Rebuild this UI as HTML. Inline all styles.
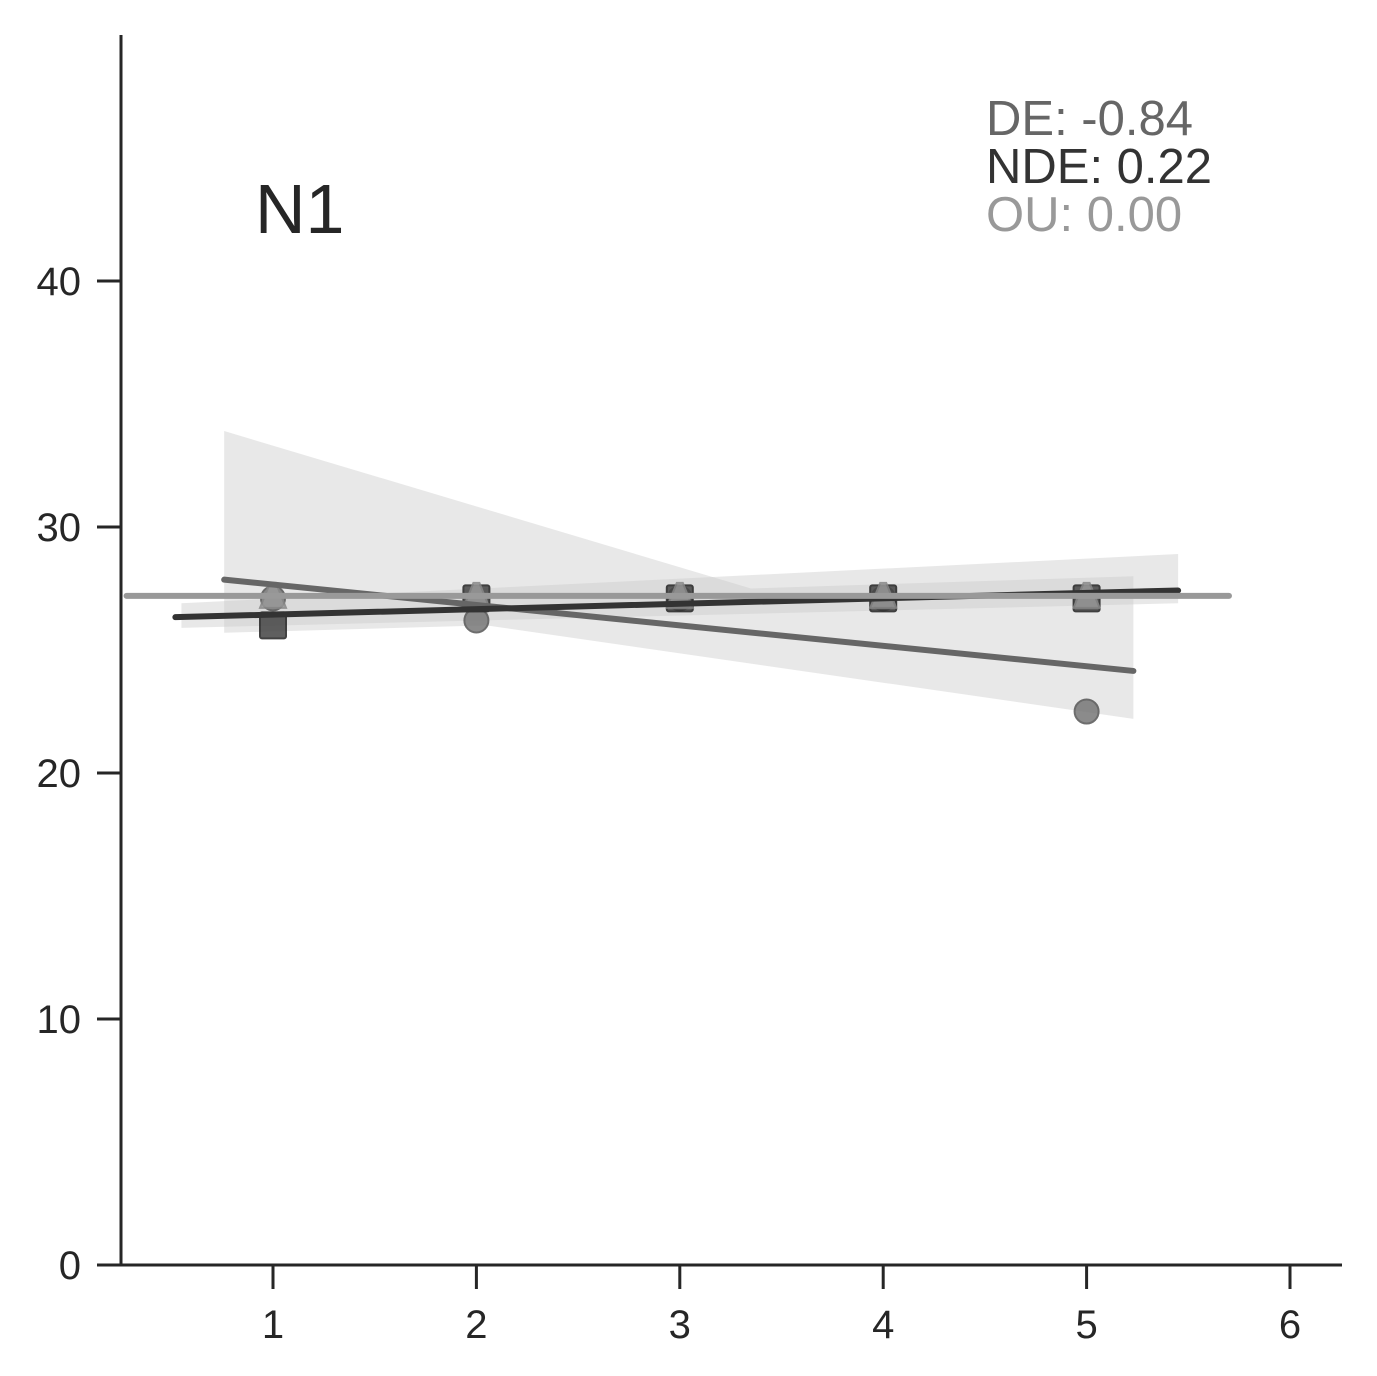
<!DOCTYPE html>
<html><head><meta charset="utf-8"><style>body{margin:0;background:#fff}svg{display:block}text{font-family:"Liberation Sans",Arial,sans-serif}</style></head>
<body>
<svg id="chart" width="1377" height="1376" xmlns="http://www.w3.org/2000/svg"></svg>
<script>
const xs = [1, 2, 3, 4, 5];
const deValues = [27.1, 26.2, 27.1, 27.1, 22.5];
const ndeValues = [26.0, 27.1, 27.1, 27.1, 27.1];
const ouValues = [27.2, 27.2, 27.2, 27.2, 27.2];
const deBandUpperX = [0.76, 3.35, 5.23];
const deBandUpper = [33.9, 27.5, 28.0];
const deBandLowerX = [0.76, 2.05, 5.23];
const deBandLower = [25.7, 26.0, 22.2];
const ndeBandUpperX = [0.55, 5.45];
const ndeBandUpper = [26.9, 28.9];
const ndeBandLowerX = [0.55, 5.45];
const ndeBandLower = [25.9, 26.9];
const xTicks = [1, 2, 3, 4, 5, 6];
const yTicks = [0, 10, 20, 30, 40];
const annotations = ["DE: -0.84", "NDE: 0.22", "OU: 0.00"];

const svg = document.getElementById('chart');
const NS = 'http://www.w3.org/2000/svg';
const X = v => 273 + (v - 1) * 203.4;
const Y = v => 1265 - v * 24.6;
function mk(tag, attrs, parent) {
  const e = document.createElementNS(NS, tag);
  for (const k in attrs) e.setAttribute(k, attrs[k]);
  (parent || svg).appendChild(e);
  return e;
}
function fit(vals) {
  const n = xs.length, mx = xs.reduce((a,b)=>a+b)/n, my = vals.reduce((a,b)=>a+b)/n;
  let sxy = 0, sxx = 0;
  xs.forEach((x,i)=>{sxy += (x-mx)*(vals[i]-my); sxx += (x-mx)*(x-mx);});
  const b = sxy/sxx; return x => my + b*(x-mx);
}
function band(ux, uy, lx, ly, name) {
  const pts = ux.map((x,i)=>`${X(x)},${Y(uy[i])}`);
  for (let i = lx.length-1; i >= 0; i--) pts.push(`${X(lx[i])},${Y(ly[i])}`);
  const p = mk('polygon', {points: pts.join(' '), fill: '#c8c8c8', 'fill-opacity': 0.42});
  
  
}
band(deBandUpperX, deBandUpper, deBandLowerX, deBandLower, 'de-confidence-band');
band(ndeBandUpperX, ndeBandUpper, ndeBandLowerX, ndeBandLower, 'nde-confidence-band');

xs.forEach((x,i)=>{
  const c = mk('circle', {cx: X(x), cy: Y(deValues[i]), r: 12, fill: '#777', stroke: '#555', 'stroke-width': 2, opacity: 0.85});
  
  
  const s = mk('rect', {x: X(x)-13, y: Y(ndeValues[i])-13, width: 26, height: 26, rx: 2, fill: '#444', stroke: '#222', 'stroke-width': 2, opacity: 0.85});
  
  
  const t = mk('polygon', {points: `${X(x)-3},${Y(ouValues[i])-13} ${X(x)+3},${Y(ouValues[i])-13} ${X(x)+13},${Y(ouValues[i])+12} ${X(x)-13},${Y(ouValues[i])+12}`, fill: '#999', stroke: '#888', 'stroke-width': 2, opacity: 0.85});
  
  
});

function line(vals, x0, x1, color, name) {
  const f = fit(vals);
  const l = mk('line', {x1: X(x0), y1: Y(f(x0)), x2: X(x1), y2: Y(f(x1)), stroke: color, 'stroke-width': 6, 'stroke-linecap': 'round'});
  
  
}
line(deValues, 0.76, 5.23, '#666', 'de-fit-line');
line(ndeValues, 0.52, 5.45, '#333', 'nde-fit-line');
line(ouValues, 0.28, 5.7, '#999', 'ou-fit-line');

let a = mk('line', {x1: 121, y1: 35, x2: 121, y2: 1266, stroke: '#262626', 'stroke-width': 3});
 
a = mk('line', {x1: 120, y1: 1265, x2: 1342, y2: 1265, stroke: '#262626', 'stroke-width': 3});
 
yTicks.forEach(v=>{
  const t = mk('line', {x1: 97, y1: Y(v), x2: 121, y2: Y(v), stroke: '#262626', 'stroke-width': 3});
   
  const l = mk('text', {x: 81, y: Y(v)+14, 'text-anchor': 'end', 'font-size': 40, fill: '#262626'});
  l.textContent = v;
   
});
xTicks.forEach(v=>{
  const t = mk('line', {x1: X(v), y1: 1265, x2: X(v), y2: 1289, stroke: '#262626', 'stroke-width': 3});
   
  const l = mk('text', {x: X(v), y: 1338, 'text-anchor': 'middle', 'font-size': 40, fill: '#262626'});
  l.textContent = v;
   
});
let n = mk('text', {x: 255, y: 233, 'font-size': 70, fill: '#262626'});
n.textContent = 'N1';
 
const colors = ['#666', '#333', '#999'];
annotations.forEach((s,i)=>{
  const t = mk('text', {x: 986, y: 135 + i*48, 'font-size': 49, fill: colors[i]});
  t.textContent = s;
   
});
</script>
</body></html>
